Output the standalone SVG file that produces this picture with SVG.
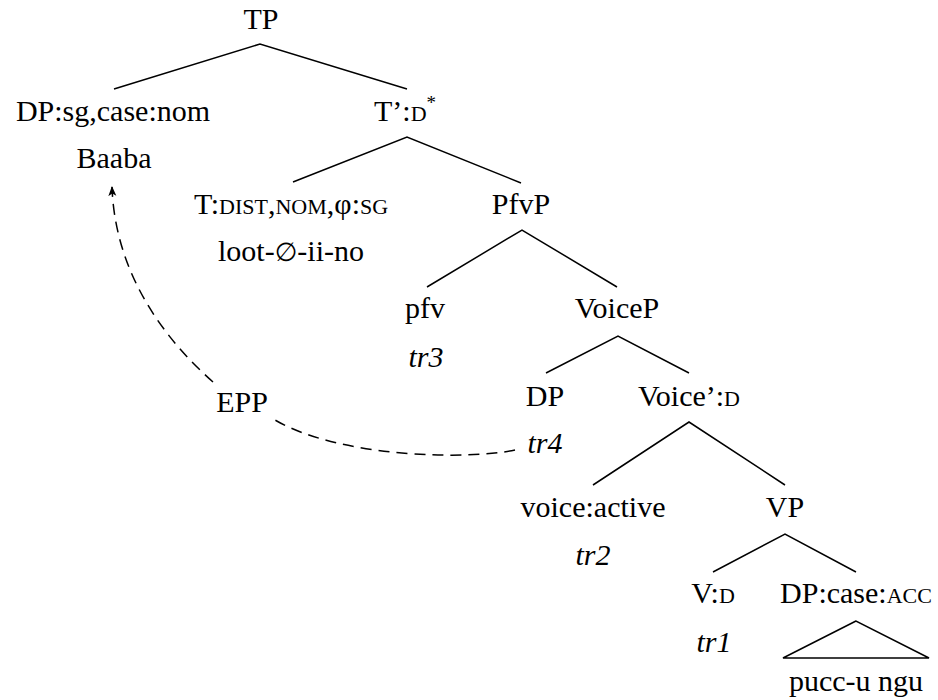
<svg xmlns="http://www.w3.org/2000/svg" width="938" height="700" viewBox="0 0 938 700">
<defs>
<marker id="ah" viewBox="0 0 10 10" refX="9" refY="5" markerWidth="10" markerHeight="10" markerUnits="userSpaceOnUse" orient="auto">
<path d="M0,1 L10,5 L0,9 L2.5,5 Z" fill="#000"/>
</marker>
</defs>
<rect width="938" height="700" fill="#fff"/>
<g id="connectors" stroke="#000" stroke-width="1.5" fill="none">
<path d="M114,89 L260,44 L407,89"/>
<path d="M293,182 L407,137 L521,183"/>
<path d="M427,287 L522,230 L617,287"/>
<path d="M546,373 L618,336 L689,373"/>
<path d="M593,485 L689,422 L785,485"/>
<path d="M713,572 L785,534 L856,572"/>
<path d="M856,621 L783,658 L929,658 Z"/>
<path stroke-dasharray="11 7" d="M515,450 C470,460 340,458 275,420"/>
<path stroke-dasharray="11 7" d="M213,382 C160,335 115,270 112,187" marker-end="url(#ah)"/>
</g>
<g id="TP"><text x="261" y="29" font-family="Liberation Serif" font-size="30" text-anchor="middle">TP</text></g>
<g id="DPsubj"><text x="113" y="121" font-family="Liberation Serif" font-size="30" text-anchor="middle">DP:sg,case:nom</text><text x="114" y="168" font-family="Liberation Serif" font-size="30" text-anchor="middle">Baaba</text></g>
<g id="Tbar"><text x="405" y="121" font-family="Liberation Serif" font-size="30" text-anchor="middle">T&#x2019;:<tspan font-size="22">D</tspan><tspan font-size="19" dy="-12">*</tspan></text></g>
<g id="T"><text x="291" y="214" font-family="Liberation Serif" font-size="30" text-anchor="middle">T:<tspan font-size="22">DIST</tspan>,<tspan font-size="22">NOM</tspan>,&#x3C6;:<tspan font-size="22">SG</tspan></text><text x="291" y="261" font-family="Liberation Serif" font-size="30" text-anchor="middle">loot-<tspan font-family="DejaVu Sans" font-size="26">&#x2205;</tspan>-ii-no</text></g>
<g id="PfvP"><text x="521" y="214" font-family="Liberation Serif" font-size="30" text-anchor="middle">PfvP</text></g>
<g id="pfv"><text x="425" y="318" font-family="Liberation Serif" font-size="30" text-anchor="middle">pfv</text><text x="426" y="367" font-family="Liberation Serif" font-size="30" font-style="italic" text-anchor="middle">tr3</text></g>
<g id="VoiceP"><text x="617" y="318" font-family="Liberation Serif" font-size="30" text-anchor="middle">VoiceP</text></g>
<g id="DPspec"><text x="545" y="406" font-family="Liberation Serif" font-size="30" text-anchor="middle">DP</text><text x="545" y="453" font-family="Liberation Serif" font-size="30" font-style="italic" text-anchor="middle">tr4</text></g>
<g id="Voicebar"><text x="689" y="406" font-family="Liberation Serif" font-size="30" text-anchor="middle">Voice&#x2019;:<tspan font-size="22">D</tspan></text></g>
<g id="EPP"><text x="242" y="412" font-family="Liberation Serif" font-size="30" text-anchor="middle">EPP</text></g>
<g id="voice"><text x="593" y="517" font-family="Liberation Serif" font-size="30" text-anchor="middle">voice:active</text><text x="593" y="565" font-family="Liberation Serif" font-size="30" font-style="italic" text-anchor="middle">tr2</text></g>
<g id="VP"><text x="785" y="517" font-family="Liberation Serif" font-size="30" text-anchor="middle">VP</text></g>
<g id="V"><text x="713" y="603" font-family="Liberation Serif" font-size="30" text-anchor="middle">V:<tspan font-size="22">D</tspan></text><text x="714" y="652" font-family="Liberation Serif" font-size="30" font-style="italic" text-anchor="middle">tr1</text></g>
<g id="DPobj"><text x="856" y="603" font-family="Liberation Serif" font-size="30" text-anchor="middle">DP:case:<tspan font-size="22">ACC</tspan></text><text x="856" y="691" font-family="Liberation Serif" font-size="30" text-anchor="middle">pucc-u ngu</text></g>
</svg>
